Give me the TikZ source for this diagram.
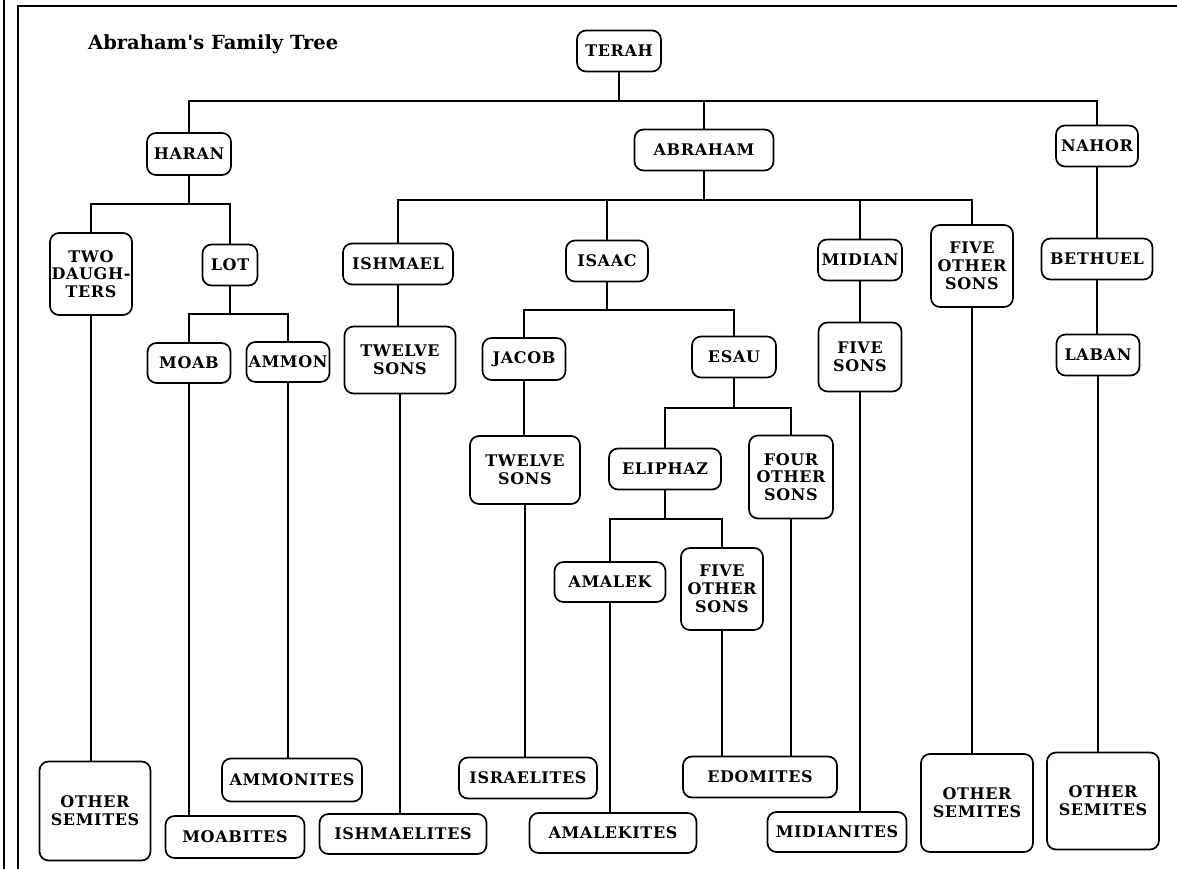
\documentclass[tikz,border=0pt]{standalone}
\usepackage{fontspec}
\setmainfont{DejaVu Serif}
\newfontfamily\boxfont[LetterSpace=4]{DejaVu Serif}
\tikzset{
  fam/.style={draw, line width=1.7pt, rounded corners=9pt, align=center, inner sep=0pt,
    font=\boxfont\bfseries\fontsize{16}{17.8}\selectfont},
  link/.style={line width=1.6pt},
  frameline/.style={line width=2.8pt}
}
\begin{document}
\begin{tikzpicture}[x=1pt,y=-1pt]
\useasboundingbox (0,0) rectangle (1177,869);
% frame
\draw[frameline] (4,0) -- (4,869);
\draw[frameline] (18,869) -- (18,6) -- (1177,6);
% title
\node[anchor=base west, inner sep=0pt, font=\bfseries\fontsize{19.5}{22}\selectfont] (title) at (88,50) {Abraham\textquotesingle s Family Tree};
% nodes
\node[fam, minimum width=84pt, minimum height=41pt] (terah) at (619,51) {TERAH};
\node[fam, minimum width=84pt, minimum height=42pt] (haran) at (189,154) {HARAN};
\node[fam, minimum width=139pt, minimum height=41pt] (abraham) at (704,150) {ABRAHAM};
\node[fam, minimum width=82pt, minimum height=41pt] (nahor) at (1097,146) {NAHOR};
\node[fam, minimum width=82pt, minimum height=82pt] (twodau) at (91,274) {TWO\\DAUGH-\\TERS};
\node[fam, minimum width=55pt, minimum height=41pt] (lot) at (230,265) {LOT};
\node[fam, minimum width=83pt, minimum height=40pt] (moab) at (189,363) {MOAB};
\node[fam, minimum width=83pt, minimum height=40pt] (ammon) at (288,362) {AMMON};
\node[fam, minimum width=110pt, minimum height=41pt] (ishmael) at (398,264) {ISHMAEL};
\node[fam, minimum width=111pt, minimum height=67pt] (ishsons) at (400,360) {TWELVE\\SONS};
\node[fam, minimum width=82pt, minimum height=41pt] (isaac) at (607,261) {ISAAC};
\node[fam, minimum width=83pt, minimum height=42pt] (jacob) at (524,359) {JACOB};
\node[fam, minimum width=84pt, minimum height=41pt] (esau) at (734,357) {ESAU};
\node[fam, minimum width=110pt, minimum height=68pt] (jacsons) at (525,470) {TWELVE\\SONS};
\node[fam, minimum width=112pt, minimum height=41pt] (eliphaz) at (665,469) {ELIPHAZ};
\node[fam, minimum width=84pt, minimum height=83pt] (fouros) at (791,477) {FOUR\\OTHER\\SONS};
\node[fam, minimum width=111pt, minimum height=40pt] (amalek) at (610,582) {AMALEK};
\node[fam, minimum width=82pt, minimum height=82pt] (fiveos) at (722,589) {FIVE\\OTHER\\SONS};
\node[fam, minimum width=84pt, minimum height=41pt] (midian) at (860,260) {MIDIAN};
\node[fam, minimum width=83pt, minimum height=69pt] (fivesons) at (860,357) {FIVE\\SONS};
\node[fam, minimum width=82pt, minimum height=82pt] (abrfos) at (972,266) {FIVE\\OTHER\\SONS};
\node[fam, minimum width=111pt, minimum height=41pt] (bethuel) at (1097,259) {BETHUEL};
\node[fam, minimum width=83pt, minimum height=41pt] (laban) at (1098,355) {LABAN};
\node[fam, minimum width=111pt, minimum height=99pt] (semA) at (95,811) {OTHER\\SEMITES};
\node[fam, minimum width=140pt, minimum height=43pt] (ammonites) at (292,780) {AMMONITES};
\node[fam, minimum width=139pt, minimum height=42pt] (moabites) at (235,837) {MOABITES};
\node[fam, minimum width=167pt, minimum height=40pt] (ishmaelites) at (403,834) {ISHMAELITES};
\node[fam, minimum width=138pt, minimum height=41pt] (israelites) at (528,778) {ISRAELITES};
\node[fam, minimum width=167pt, minimum height=40pt] (amalekites) at (613,833) {AMALEKITES};
\node[fam, minimum width=154pt, minimum height=41pt] (edomites) at (760,777) {EDOMITES};
\node[fam, minimum width=139pt, minimum height=40pt] (midianites) at (837,832) {MIDIANITES};
\node[fam, minimum width=112pt, minimum height=98pt] (semB) at (977,803) {OTHER\\SEMITES};
\node[fam, minimum width=112pt, minimum height=97pt] (semC) at (1103,801) {OTHER\\SEMITES};
% bar levels
\coordinate (bT) at (0,101);
\coordinate (bH) at (0,204);
\coordinate (bL) at (0,314);
\coordinate (bA) at (0,200);
\coordinate (bI) at (0,310);
\coordinate (bE) at (0,408);
\coordinate (bEl) at (0,519);
% Terah
\draw[link] (terah.south) -- (terah.south |- bT);
\draw[link] (haran.north) -- (haran.north |- bT) -- (nahor.north |- bT) -- (nahor.north);
\draw[link] (abraham.north) -- (abraham.north |- bT);
% Haran
\draw[link] (haran.south) -- (haran.south |- bH);
\draw[link] (twodau.north) -- (twodau.north |- bH) -- (lot.north |- bH) -- (lot.north);
\draw[link] (twodau.south) -- (twodau.south |- semA.north);
% Lot
\draw[link] (lot.south) -- (lot.south |- bL);
\draw[link] (moab.north) -- (moab.north |- bL) -- (ammon.north |- bL) -- (ammon.north);
\draw[link] (moab.south) -- (moab.south |- moabites.north);
\draw[link] (ammon.south) -- (ammon.south |- ammonites.north);
% Abraham
\draw[link] (abraham.south) -- (abraham.south |- bA);
\draw[link] (ishmael.north) -- (ishmael.north |- bA) -- (abrfos.north |- bA) -- (abrfos.north);
\draw[link] (isaac.north) -- (isaac.north |- bA);
\draw[link] (midian.north) -- (midian.north |- bA);
% Ishmael
\draw[link] (ishmael.south) -- (ishmael.south |- ishsons.north);
\draw[link] (ishsons.south) -- (ishsons.south |- ishmaelites.north);
% Isaac
\draw[link] (isaac.south) -- (isaac.south |- bI);
\draw[link] (jacob.north) -- (jacob.north |- bI) -- (esau.north |- bI) -- (esau.north);
\draw[link] (jacob.south) -- (jacob.south |- jacsons.north);
\draw[link] (jacsons.south) -- (jacsons.south |- israelites.north);
% Esau
\draw[link] (esau.south) -- (esau.south |- bE);
\draw[link] (eliphaz.north) -- (eliphaz.north |- bE) -- (fouros.north |- bE) -- (fouros.north);
\draw[link] (fouros.south) -- (fouros.south |- edomites.north);
% Eliphaz
\draw[link] (eliphaz.south) -- (eliphaz.south |- bEl);
\draw[link] (amalek.north) -- (amalek.north |- bEl) -- (fiveos.north |- bEl) -- (fiveos.north);
\draw[link] (amalek.south) -- (amalek.south |- amalekites.north);
\draw[link] (fiveos.south) -- (fiveos.south |- edomites.north);
% Midian
\draw[link] (midian.south) -- (midian.south |- fivesons.north);
\draw[link] (fivesons.south) -- (fivesons.south |- midianites.north);
% Five other sons
\draw[link] (abrfos.south) -- (abrfos.south |- semB.north);
% Nahor
\draw[link] (nahor.south) -- (nahor.south |- bethuel.north);
\draw[link] (bethuel.south) -- (bethuel.south |- laban.north);
\draw[link] (laban.south) -- (laban.south |- semC.north);
\end{tikzpicture}
\end{document}
